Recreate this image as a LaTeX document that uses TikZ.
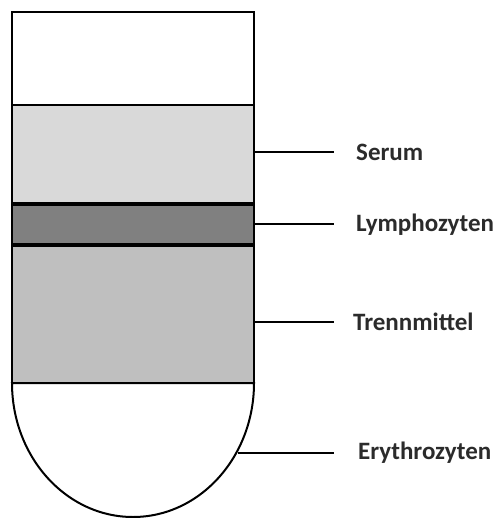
\documentclass[tikz,border=0pt]{standalone}
\usepackage{fontspec}
\setmainfont{Carlito}
\usetikzlibrary{positioning}
\definecolor{serumgray}{HTML}{D9D9D9}
\definecolor{lymphgray}{HTML}{808080}
\definecolor{trenngray}{HTML}{BFBFBF}
\definecolor{labeltext}{HTML}{2B2B2B}
\tikzset{
  layer/.style={draw, line width=2pt, minimum width=242pt, anchor=north west, inner sep=0pt, outer sep=0pt},
  pointer/.style={draw, line width=2pt},
  tubelabel/.style={right, font=\bfseries\fontsize{25}{28}\selectfont, text=labeltext, inner sep=0pt}
}
\begin{document}
\begin{tikzpicture}[x=1pt,y=-1pt]
  \useasboundingbox (0,0) rectangle (493,518);
  % Layers of the tube, top to bottom.
  \node[layer, fill=white, minimum height=93pt] (empty) at (12,12) {};
  \node[layer, fill=serumgray, minimum height=99pt] (serum) at (12,105) {};
  \node[layer, fill=trenngray, minimum height=138pt] (trenn) at (12,245) {};
  \node[layer, fill=lymphgray, minimum height=41pt] (lymph) at (12,204) {};
  % Heavy rims of the cell band.
  \draw[line width=4pt] (lymph.north west) -- (lymph.north east);
  \draw[line width=4pt] (lymph.south west) -- (lymph.south east);
  % Rounded bottom with the red cells.
  \draw[line width=2pt, fill=white] (254,383) arc[start angle=0, end angle=180, x radius=121, y radius=134] -- cycle;
  \coordinate (ery) at (238,453);
  % Pointer starts and ends.
  \coordinate[above=2.5pt of serum.east] (serumstart);
  \coordinate[below=8pt of trenn.east] (trennstart);
  \coordinate[right=80pt of serumstart] (serumend);
  \coordinate[right=80pt of lymph.east] (lymphend);
  \coordinate[right=80pt of trennstart] (trennend);
  \coordinate (eryend) at (trennend |- ery);
  % Pointers and labels.
  \draw[pointer] (serumstart) -- (serumend);
  \draw[pointer] (lymph.east) -- (lymphend);
  \draw[pointer] (trennstart) -- (trennend);
  \draw[pointer] (ery) -- (eryend);
  \node[tubelabel, right=22pt of serumend] (serumlabel) {Serum};
  \node[tubelabel, right=22pt of lymphend] (lymphlabel) {Lymphozyten};
  \node[tubelabel, right=19pt of trennend] (trennlabel) {Trennmittel};
  \node[tubelabel, right=24pt of eryend] (erylabel) {Erythrozyten};
\end{tikzpicture}
\end{document}
